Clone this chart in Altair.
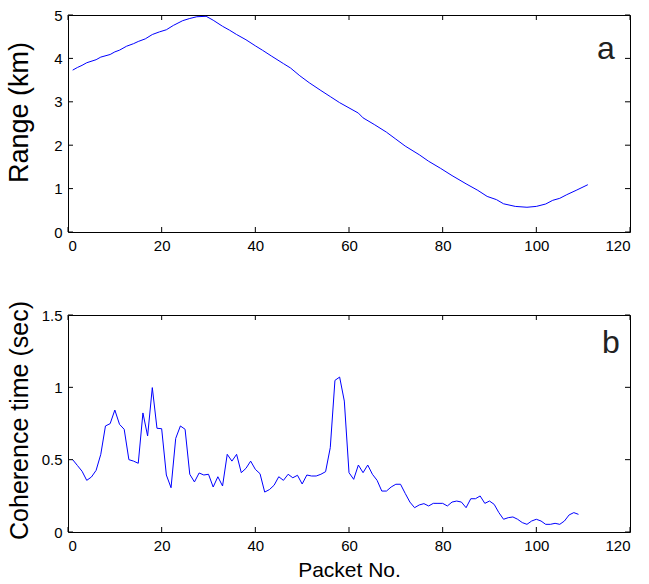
import altair as alt
import pandas as pd

# ---- data ----
packet_a = [1, 2, 3, 4, 6, 7, 9, 10, 11, 12.5, 14, 15, 16.5, 18, 19.5, 21, 22.5, 24.5, 26, 27.5,
            29.5, 31, 33, 34.5, 36, 38, 40, 41.5, 43.5, 46, 47.5, 49.5, 51.5, 54, 56, 58, 60, 62,
            63, 65.5, 68, 70, 72, 75, 77, 79.5, 82, 85, 87.5, 89.5, 91.5, 93, 95.5, 98, 100, 102,
            103.5, 105, 106.5, 108.5, 111]
range_km = [3.73, 3.79, 3.84, 3.90, 3.97, 4.03, 4.09, 4.15, 4.19, 4.28, 4.34, 4.39, 4.45, 4.55,
            4.61, 4.66, 4.76, 4.87, 4.92, 4.96, 4.97, 4.88, 4.74, 4.65, 4.55, 4.43, 4.29, 4.19,
            4.05, 3.88, 3.78, 3.60, 3.44, 3.26, 3.12, 2.98, 2.86, 2.74, 2.63, 2.47, 2.30, 2.14,
            1.98, 1.78, 1.63, 1.47, 1.30, 1.11, 0.96, 0.82, 0.745, 0.65, 0.59, 0.57, 0.59, 0.645,
            0.73, 0.776, 0.86, 0.96, 1.09]

packet_b = list(range(1, 110))
coherence = [0.50, 0.46, 0.42, 0.357, 0.38, 0.426, 0.537, 0.733, 0.749, 0.843,
             0.744, 0.71, 0.50, 0.49, 0.475, 0.823, 0.664, 0.998, 0.717, 0.714,
             0.394, 0.306, 0.647, 0.733, 0.71, 0.399, 0.346, 0.408, 0.394, 0.399,
             0.311, 0.382, 0.318, 0.537, 0.49, 0.537, 0.41, 0.44, 0.49, 0.433,
             0.403, 0.276, 0.293, 0.323, 0.382, 0.357, 0.399, 0.375, 0.392, 0.332,
             0.394, 0.387, 0.387, 0.399, 0.417, 0.583, 1.048, 1.071, 0.905, 0.41,
             0.364, 0.463, 0.41, 0.463, 0.399, 0.357, 0.283, 0.283, 0.311, 0.33,
             0.33, 0.267, 0.207, 0.168, 0.187, 0.196, 0.18, 0.198, 0.198, 0.198,
             0.18, 0.207, 0.214, 0.207, 0.168, 0.23, 0.23, 0.249, 0.198, 0.214,
             0.191, 0.134, 0.088, 0.099, 0.104, 0.088, 0.065, 0.053, 0.076, 0.088,
             0.076, 0.053, 0.053, 0.06, 0.053, 0.076, 0.118, 0.134, 0.122]

x_ticks = [0, 20, 40, 60, 80, 100, 120]
range_ticks = [0, 1, 2, 3, 4, 5]
coh_ticks = [0, 0.5, 1, 1.5]
panel_labels = ["a", "b"]

W, H = 562, 217
FONT = "Liberation Sans"
BLUE = "#0000ff"
TICK = 5


def ax(orient, values, title=None, fmt=None, title_size=None, title_y=None):
    kw = dict(orient=orient, values=values, ticks=False, domain=False, grid=False,
              labelFont=FONT, labelFontSize=15, labelColor="black", titleFont=FONT,
              titleFontWeight="normal", titleColor="black", title=title)
    if fmt is not None:
        kw["format"] = fmt
    if orient == "bottom":
        kw["labelPadding"] = 6
        if title is not None:
            kw["titleFontSize"] = 21
            kw["titlePadding"] = 6
    else:
        kw["labelPadding"] = 6
        if title is not None:
            kw["titleFontSize"] = title_size
            kw["titleX"] = -41
            kw["titleY"] = title_y
            kw["titleBaseline"] = "alphabetic"
            kw["titleAngle"] = 270
            kw["titleAlign"] = "center"
    return alt.Axis(**kw)


xs = alt.Scale(domain=[0, 120], nice=False, zero=False)


def panel(df, xfield, yfield, ydomain, yticks, ytitle, tsize, ty, label, lx, ly,
          xtitle=None, fmt=None):
    ys = alt.Scale(domain=ydomain, nice=False)
    line = alt.Chart(df).mark_line(color=BLUE, strokeWidth=1).encode(
        x=alt.X(f"{xfield}:Q", scale=xs, axis=ax("bottom", x_ticks, title=xtitle)),
        y=alt.Y(f"{yfield}:Q", scale=ys,
                axis=ax("left", yticks, title=ytitle, fmt=fmt, title_size=tsize, title_y=ty)),
    )
    xt = alt.Chart(pd.DataFrame({"v": x_ticks}))
    yt = alt.Chart(pd.DataFrame({"v": yticks}))
    rk = dict(color="black", strokeWidth=1)
    xb = xt.mark_rule(**rk).encode(x=alt.X("v:Q", scale=xs, axis=None),
                                   y=alt.value(H), y2=alt.value(H - TICK))
    xtp = xt.mark_rule(**rk).encode(x=alt.X("v:Q", scale=xs, axis=None),
                                    y=alt.value(0), y2=alt.value(TICK))
    yl = yt.mark_rule(**rk).encode(y=alt.Y("v:Q", scale=ys, axis=None),
                                   x=alt.value(0), x2=alt.value(TICK))
    yr = yt.mark_rule(**rk).encode(y=alt.Y("v:Q", scale=ys, axis=None),
                                   x=alt.value(W - TICK), x2=alt.value(W))
    txt = alt.Chart(pd.DataFrame({"t": [label]})).mark_text(
        font=FONT, fontSize=32, color="#222222", align="center", baseline="alphabetic"
    ).encode(x=alt.value(lx), y=alt.value(ly), text="t:N")
    return alt.layer(line, xb, xtp, yl, yr, txt).resolve_axis(
        x="independent", y="independent").properties(width=W, height=H)


df_a = pd.DataFrame({"packet": packet_a, "range": range_km})
df_b = pd.DataFrame({"packet": packet_b, "coh": coherence})

top = panel(df_a, "packet", "range", [0, 5], range_ticks, "Range (km)", 27, 97,
            panel_labels[0], 538, 44)
bottom = panel(df_b, "packet", "coh", [0, 1.5], coh_ticks, "Coherence time (sec)", 25, 105,
               panel_labels[1], 543, 38, xtitle="Packet No.", fmt="~g")

chart = alt.vconcat(top, bottom, spacing=83, bounds="flush").properties(
    padding={"left": 4, "top": 7, "right": 5, "bottom": 5},
    background="white",
).configure_view(stroke="black", strokeWidth=1)

chart.save("out.html", embed_options={"renderer": "svg", "actions": False})
